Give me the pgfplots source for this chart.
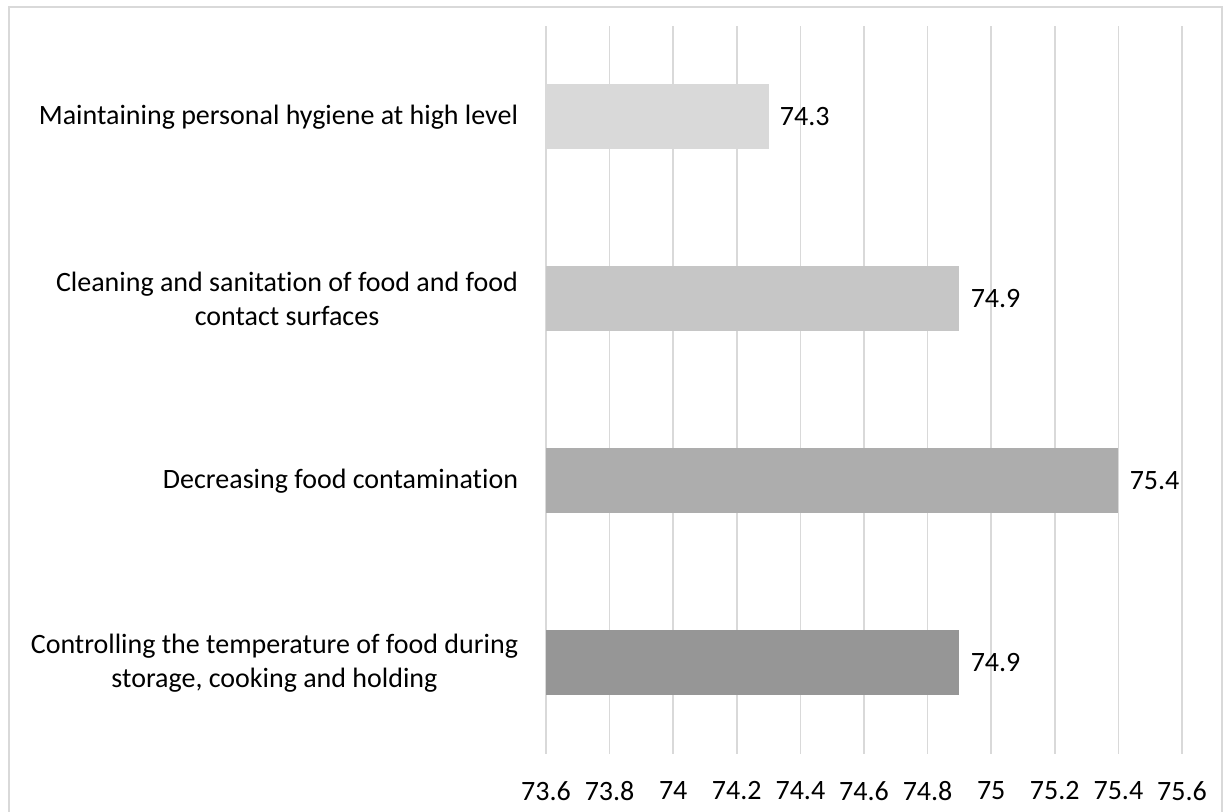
\documentclass[border=0pt]{standalone}
\usepackage{pgfplots}
\pgfplotsset{compat=1.18}
\usepackage{fontspec}
\setmainfont{Carlito}[Ligatures=NoCommon]

\definecolor{gridgray}{HTML}{D9D9D9}
\definecolor{barA}{HTML}{D9D9D9}
\definecolor{barB}{HTML}{C6C6C6}
\definecolor{barC}{HTML}{ADADAD}
\definecolor{barD}{HTML}{969696}

\begin{document}
\fontsize{14pt}{17pt}\selectfont
\begin{tikzpicture}
\useasboundingbox (0,0) rectangle (614pt,406pt);
% outer chart frame (bottom edge falls outside the page)
\draw[gridgray, line width=1pt] (4.5pt,-2pt) -- (4.5pt,402.5pt) -- (611pt,402.5pt) -- (611pt,-2pt);
\begin{axis}[
  at={(273pt,29pt)}, anchor=south west,
  scale only axis,
  width=318pt, height=364pt,
  xmin=73.6, xmax=75.6,
  ymin=-0.5, ymax=3.5,
  xtick={73.6,73.8,74,74.2,74.4,74.6,74.8,75,75.2,75.4,75.6},
  ytick={0,1,2,3},
  yticklabels={{Controlling the temperature of food during\\storage, cooking and holding},
               {Decreasing food contamination},
               {Cleaning and sanitation of food and food\\contact surfaces},
               {Maintaining personal hygiene at high level}},
  yticklabel style={align=center, anchor=east, inner sep=0pt, xshift=-9.5pt},
  xticklabel style={inner sep=0pt, anchor=north, yshift=-13.5pt},
  /pgf/number format/assume math mode=true,
  /pgf/number format/.cd, fixed, precision=1, /pgfplots/.cd,
  axis line style={draw=none},
  tick style={draw=none},
  xmajorgrids,
  major grid style={gridgray, line width=0.75pt},
  xbar, bar width=32.5pt, bar shift=0pt,
  point meta=x,
  nodes near coords,
  nodes near coords style={anchor=west, inner sep=0pt, xshift=5.5pt, black},
  every node near coord/.append style={/pgf/number format/assume math mode=true},
]
\addplot[fill=barD, draw=none] coordinates {(74.9,0)};
\addplot[fill=barC, draw=none] coordinates {(75.4,1)};
\addplot[fill=barB, draw=none] coordinates {(74.9,2)};
\addplot[fill=barA, draw=none] coordinates {(74.3,3)};
\end{axis}
\end{tikzpicture}
\end{document}
